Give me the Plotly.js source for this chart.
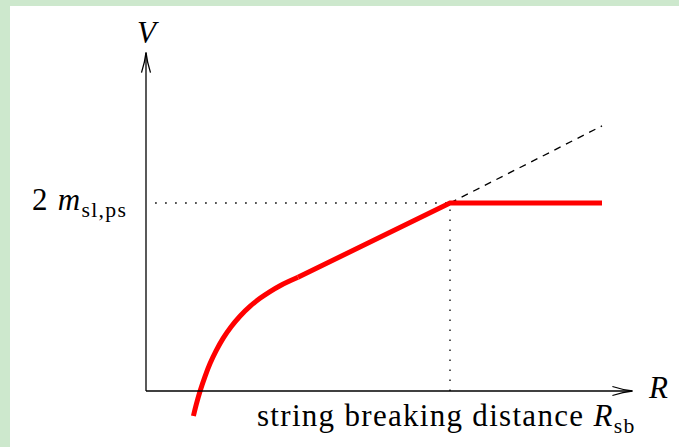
<!DOCTYPE html>
<html>
<head>
<meta charset="utf-8">
<script src="https://cdn.plot.ly/plotly-3.0.1.min.js"></script>
<style>
  html, body { margin: 0; padding: 0; background: #cde8cd; }
  #chart { width: 679px; height: 447px; }
  /* Computer-Modern-like wide setting for the long labels */
  .annotation-text { letter-spacing: 1.3px; }
</style>
</head>
<body>
<div id="chart"></div>
<script>
// Static potential V(R): Coulomb-like rise at short distance, linear string
// regime, then a flat plateau once the string breaks at R = R_sb.
const curveR = [0.156, 0.165, 0.178, 0.194, 0.211, 0.230, 0.254, 0.280,
                0.309, 0.342, 0.375, 0.408, 0.441, 0.474, 0.5];
const curveV = [-0.133, -0.074, 0.0, 0.077, 0.147, 0.212, 0.281, 0.342,
                0.398, 0.450, 0.493, 0.529, 0.560, 0.586, 0.605];

const stringR = [0.5, 1.0, 1.5];
const stringV = [0.605, 1.0, 1.0];

// continuation of the linear string potential beyond the breaking point
const unbrokenR = [1.0, 1.5];
const unbrokenV = [1.0, 1.41];

const breakR = 1.0;     // R_sb
const plateauV = 1.0;   // 2 m_sl,ps

const axisEndR = 1.6;
const axisEndV = 1.8;

const RED = '#ff0000';
const INK = '#000000';
const SERIF = 'Liberation Serif, Times New Roman, serif';

const traces = [
  { x: [0.03, breakR], y: [plateauV, plateauV], mode: 'lines',
    line: { color: INK, width: 1.3, dash: '1.6px,8.4px' }, hoverinfo: 'skip' },
  { x: [breakR, breakR], y: [0, plateauV], mode: 'lines',
    line: { color: INK, width: 1.3, dash: '1.6px,8.4px' }, hoverinfo: 'skip' },
  { x: unbrokenR, y: unbrokenV, mode: 'lines',
    line: { color: INK, width: 1.3, dash: '7px,6px' }, hoverinfo: 'skip' },
  { x: curveR, y: curveV, mode: 'lines',
    line: { color: RED, width: 5, shape: 'spline', smoothing: 1 }, hoverinfo: 'skip' },
  { x: stringR, y: stringV, mode: 'lines',
    line: { color: RED, width: 5 }, hoverinfo: 'skip' }
];

const shapes = [
  // white canvas inside the green frame
  { type: 'rect', xref: 'paper', yref: 'paper', x0: 10 / 679, x1: 1, y0: 0, y1: 441 / 447,
    fillcolor: '#ffffff', line: { width: 0 }, layer: 'below' },
  // axes
  { type: 'line', xref: 'x', yref: 'y', x0: 0, y0: 0, x1: axisEndR, y1: 0,
    line: { color: INK, width: 1.3 } },
  { type: 'line', xref: 'x', yref: 'y', x0: 0, y0: 0, x1: 0, y1: axisEndV,
    line: { color: INK, width: 1.3 } },
  // open arrow heads
  { type: 'path', xref: 'x', yref: 'y', xsizemode: 'pixel', ysizemode: 'pixel',
    xanchor: axisEndR, yanchor: 0,
    path: 'M-20,4.5 Q-9,1 0,0 Q-9,-1 -20,-4.5', line: { color: INK, width: 1.3 } },
  { type: 'path', xref: 'x', yref: 'y', xsizemode: 'pixel', ysizemode: 'pixel',
    xanchor: 0, yanchor: axisEndV,
    path: 'M-4.5,-20 Q-1,-9 0,0 Q1,-9 4.5,-20', line: { color: INK, width: 1.3 } }
];

const font = (size) => ({ family: SERIF, size: size, color: INK });

const annotations = [
  { x: 0.005, y: 1.907, xref: 'x', yref: 'y', text: '<i>V</i>', showarrow: false,
    font: font(31), xanchor: 'center', yanchor: 'middle' },
  { x: 1.645, y: 0.02, xref: 'x', yref: 'y', text: '<i>R</i>', showarrow: false,
    font: font(31), xanchor: 'left', yanchor: 'middle' },
  { x: -0.382, y: 1.005, xref: 'x', yref: 'y', text: '2 <i>m</i><sub>sl,ps</sub>', showarrow: false,
    font: font(31), xanchor: 'left', yanchor: 'middle' },
  { x: 0.358, y: -0.145, xref: 'x', yref: 'y', text: 'string breaking distance <i>R</i><sub>sb</sub>',
    showarrow: false, font: font(31), xanchor: 'left', yanchor: 'middle' }
];

const layout = {
  width: 679, height: 447,
  margin: { l: 0, r: 0, t: 0, b: 0, pad: 0 },
  paper_bgcolor: '#cde8cd',
  plot_bgcolor: 'rgba(0,0,0,0)',
  showlegend: false,
  xaxis: { range: [-146 / 304, 533 / 304], visible: false, fixedrange: true },
  yaxis: { range: [-56 / 188, 391 / 188], visible: false, fixedrange: true },
  shapes: shapes,
  annotations: annotations
};

Plotly.newPlot('chart', traces, layout, { staticPlot: true, displayModeBar: false });
</script>
</body>
</html>
